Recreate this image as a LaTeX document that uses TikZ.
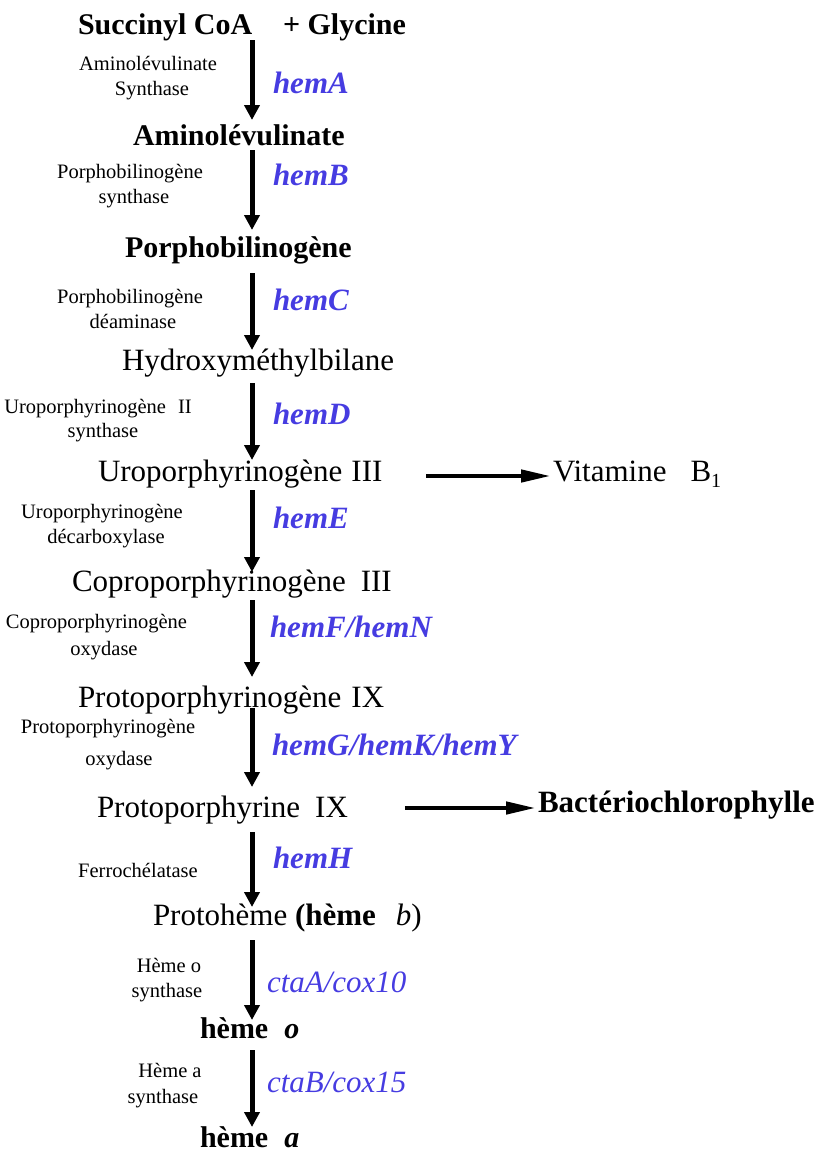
\documentclass[tikz,border=0pt]{standalone}
\usepackage{fontspec}
\setmainfont{Liberation Serif}
\usetikzlibrary{arrows.meta,calc}
\definecolor{hemblue}{RGB}{70,60,225}
\begin{document}
\begin{tikzpicture}[x=1pt,y=-1pt,
  lab/.style={inner sep=0pt,outer sep=0pt,anchor=base west,font=\fontsize{31}{36}\selectfont},
  labb/.style={inner sep=0pt,outer sep=0pt,anchor=base west,font=\fontsize{30}{36}\selectfont\bfseries},
  labbb/.style={inner sep=0pt,outer sep=0pt,anchor=base west,font=\fontsize{31}{36}\selectfont\bfseries},
  enz/.style={inner sep=0pt,outer sep=0pt,anchor=base,font=\fontsize{20.5}{24}\selectfont},
  enzw/.style={inner sep=0pt,outer sep=0pt,anchor=base east,font=\fontsize{20.5}{24}\selectfont},
  gene/.style={inner sep=0pt,outer sep=0pt,anchor=base west,text=hemblue,font=\fontsize{31}{36}\selectfont\bfseries\itshape},
  cta/.style={inner sep=0pt,outer sep=0pt,anchor=base west,text=hemblue,font=\fontsize{31}{36}\selectfont\itshape},
  varrow/.style={line width=5pt,-{Triangle[length=15pt,width=15pt]}},
  harrow/.style={line width=4.5pt,-{Triangle[length=30pt,width=12pt]}}]
\useasboundingbox (0,0) rectangle (821,1154);
\coordinate (col) at (252,0);

% main compounds
\node[labb] (succ) at (78,34) {Succinyl CoA};
\node[labb] (gly) at (283,34) {+ Glycine};
\node[labb] (ala) at (133,145) {Aminolévulinate};
\node[labb] (pbg) at (125,257) {Porphobilinogène};
\node[lab] (hmb) at (122,370) {Hydroxyméthylbilane};
\node[lab] (uro) at (98,481) {Uroporphyrinogène\hspace{9pt}III};
\node[lab] (vit) at (553,481) {Vitamine\hspace{24pt}B\raisebox{-6pt}{\fontsize{20}{20}\selectfont 1}};
\node[lab] (copro) at (72,591) {Coproporphyrinogène\hspace{15pt}III};
\node[lab] (protogen) at (78,707) {Protoporphyrinogène\hspace{10pt}IX};
\node[lab] (proto) at (97,817) {Protoporphyrine\hspace{15pt}IX};
\node[labbb] (bact) at (538,812) {Bactériochlorophylle};
\node[lab] (heme) at (153,925) {Protohème \textbf{(hème}\hspace{20pt}\textit{b})};
\node[labb] (hemeo) at (200,1038) {hème\hspace{16pt}\textit{o}};
\node[labb] (hemea) at (200,1147) {hème\hspace{16pt}\textit{a}};

% genes
\node[gene] (gA) at (273,93) {hemA};
\node[gene] (gB) at (273,185) {hemB};
\node[gene] (gC) at (273,310) {hemC};
\node[gene] (gD) at (273,424) {hemD};
\node[gene] (gE) at (273,528) {hemE};
\node[gene] (gF) at (270,637) {hemF/hemN};
\node[gene] (gG) at (272,755) {hemG/hemK/hemY};
\node[gene] (gH) at (273,868) {hemH};
\node[cta] (cA) at (267,992) {ctaA/cox10};
\node[cta] (cB) at (267,1092) {ctaB/cox15};

% enzymes
\node[enz] (e1a) at (148,70) {Aminolévulinate};
\node[enz] (e1b) at (152,95) {Synthase};
\node[enz] (e2a) at (130,178) {Porphobilinogène};
\node[enz] (e2b) at (134,203) {synthase};
\node[enz] (e3a) at (130,303) {Porphobilinogène};
\node[enz] (e3b) at (133,328) {déaminase};
\node[enzw] (e4a) at (166,413) {Uroporphyrinogène};
\node[enz,anchor=base west] (e4c) at (178,413) {II};
\node[enz] (e4b) at (103,437) {synthase};
\node[enz] (e5a) at (102,518) {Uroporphyrinogène};
\node[enz] (e5b) at (106,543) {décarboxylase};
\node[enzw] (e6a) at (187,628) {Coproporphyrinogène};
\node[enz] (e6b) at (104,655) {oxydase};
\node[enz] (e7a) at (108,733) {Protoporphyrinogène};
\node[enz] (e7b) at (119,765) {oxydase};
\node[enz] (e8) at (138,877) {Ferrochélatase};
\node[enz] (e9a) at (169,972) {Hème o};
\node[enz] (e9b) at (167,997) {synthase};
\node[enz] (e10a) at (170,1077) {Hème a};
\node[enz] (e10b) at (163,1103) {synthase};

% vertical arrows
\draw[varrow] ($(succ.base -| col)+(0,6)$) -- ($(ala.base -| col)+(0,-25)$);
\draw[varrow] ($(ala.base -| col)+(0,5)$) -- ($(pbg.base -| col)+(0,-27)$);
\draw[varrow] ($(pbg.base -| col)+(0,16)$) -- ($(hmb.base -| col)+(0,-20)$);
\draw[varrow] ($(hmb.base -| col)+(0,13)$) -- ($(uro.base -| col)+(0,-21)$);
\draw[varrow] ($(uro.base -| col)+(0,9)$) -- ($(copro.base -| col)+(0,-19)$);
\draw[varrow] ($(copro.base -| col)+(0,9)$) -- ($(protogen.base -| col)+(0,-30)$);
\draw[varrow] ($(protogen.base -| col)+(0,1)$) -- ($(proto.base -| col)+(0,-30)$);
\draw[varrow] ($(proto.base -| col)+(0,15)$) -- ($(heme.base -| col)+(0,-18)$);
\draw[varrow] ($(heme.base -| col)+(0,15)$) -- ($(hemeo.base -| col)+(0,-18)$);
\draw[varrow] ($(hemeo.base -| col)+(0,12)$) -- ($(hemea.base -| col)+(0,-20)$);

% horizontal arrows
\draw[harrow] ($(uro.base east)+(44,-5)$) -- ($(vit.base west)+(-2,-5)$);
\draw[harrow] ($(proto.base east)+(57,-9)$) -- ($(bact.base west)+(-2,-4)$);
\end{tikzpicture}
\end{document}
